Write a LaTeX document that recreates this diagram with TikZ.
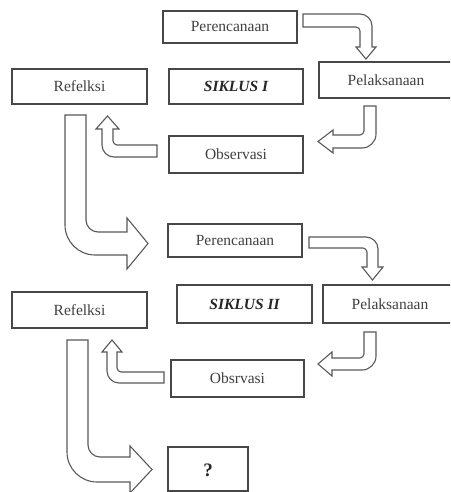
\documentclass[tikz,border=0pt]{standalone}
\usepackage{fontspec}
\setmainfont{Liberation Serif}
\begin{document}
\begin{tikzpicture}[x=1pt,y=-1pt,
  box/.style={draw=black!72,line width=1.3pt,fill=white},
  lbl/.style={text=black!75,font=\fontsize{15.5}{17}\selectfont},
  ttl/.style={text=black!85,font=\fontsize{15.5}{17}\selectfont\bfseries\itshape},
  blockarrow/.style={draw=black!65,line width=1.1pt,fill=white,line join=miter}]
\clip (0,0) rectangle (450,492);
\fill[white] (0,0) rectangle (450,492);
% ---- cycle I boxes
\draw[box] (163,11) rectangle (297,43);
\node[lbl] (per1) at (230,27) {Perencanaan};
\draw[box] (12,69) rectangle (147,104);
\node[lbl] (ref1) at (79.5,86.5) {Refelksi};
\draw[box] (169,69) rectangle (303,104);
\node[ttl] (sik1) at (236,86.5) {SIKLUS I};
\draw[box] (319,62) rectangle (453,98);
\node[lbl] (pel1) at (386,80) {Pelaksanaan};
\draw[box] (169,136) rectangle (303,173);
\node[lbl] (obs1) at (236,154.5) {Observasi};
% ---- cycle II boxes
\draw[box] (168,224) rectangle (302,257);
\node[lbl] (per2) at (235,240.5) {Perencanaan};
\draw[box] (177,285) rectangle (312,323);
\node[ttl] (sik2) at (244.5,304) {SIKLUS II};
\draw[box] (323,285) rectangle (457,323);
\node[lbl] (pel2) at (390,304) {Pelaksanaan};
\draw[box] (12,292) rectangle (147,328);
\node[lbl] (ref2) at (79.5,310) {Refelksi};
\draw[box] (171,360) rectangle (304,397);
\node[lbl] (obs2) at (237.5,378.5) {Obsrvasi};
\draw[box] (168,447) rectangle (248,491);
\node[text=black!85,font=\fontsize{19}{21}\selectfont\bfseries] (q) at (208,470) {?};
% ---- block arrows cycle I
\draw[blockarrow] (303,14) -- (360,14) .. controls (366.6,14) and (372,19.4) .. (372,26) -- (372,47) -- (376,47) -- (366,59) -- (356,47) -- (360,47) -- (360,31) .. controls (360,28.8) and (358.2,27) .. (356,27) -- (303,27) -- cycle;
\draw[blockarrow] (364,106) -- (376,106) -- (376,134) .. controls (376,141.7) and (369.7,148) .. (362,148) -- (333,148) -- (333,153) -- (318,141.5) -- (333,130) -- (333,135) -- (360,135) .. controls (362.2,135) and (364,132.8) .. (364,131) -- cycle;
\draw[blockarrow] (157,145) -- (117,145) .. controls (114.8,145) and (113,142.8) .. (113,141) -- (113,129) -- (119,129) -- (107.5,116) -- (96,129) -- (102,129) -- (102,145) .. controls (102,151.6) and (107.4,157) .. (114,157) -- (157,157) -- cycle;
\draw[blockarrow] (65,115) -- (86,115) -- (86,220) .. controls (86,226.6) and (91.4,232) .. (98,232) -- (127,232) -- (127,218) -- (148,243.5) -- (127,269) -- (127,255) -- (95,255) .. controls (78.5,255) and (65,241.5) .. (65,225) -- cycle;
% ---- block arrows cycle II
\draw[blockarrow] (309,237) -- (366,237) .. controls (372.6,237) and (378,242.4) .. (378,249) -- (378,267) -- (383,267) -- (372.5,280) -- (362,267) -- (367,267) -- (367,252) .. controls (367,249.8) and (364.8,248) .. (363,248) -- (309,248) -- cycle;
\draw[blockarrow] (364,332) -- (376,332) -- (376,356) .. controls (376,363.7) and (369.7,370) .. (362,370) -- (332,370) -- (332,376) -- (318,364) -- (332,352) -- (332,358) -- (360,358) .. controls (362.2,358) and (364,355.8) .. (364,354) -- cycle;
\draw[blockarrow] (164,372) -- (121,372) .. controls (118.8,372) and (117,369.8) .. (117,368) -- (117,352) -- (122,352) -- (112,340) -- (102,352) -- (107,352) -- (107,371) .. controls (107,377.6) and (112.4,383) .. (119,383) -- (164,383) -- cycle;
\draw[blockarrow] (67,340) -- (88,340) -- (88,445) .. controls (88,451.6) and (93.4,457) .. (100,457) -- (130,457) -- (130,446) -- (152,469.5) -- (130,493) -- (130,482) -- (97,482) .. controls (80.5,482) and (67,468.5) .. (67,452) -- cycle;
\end{tikzpicture}
\end{document}
